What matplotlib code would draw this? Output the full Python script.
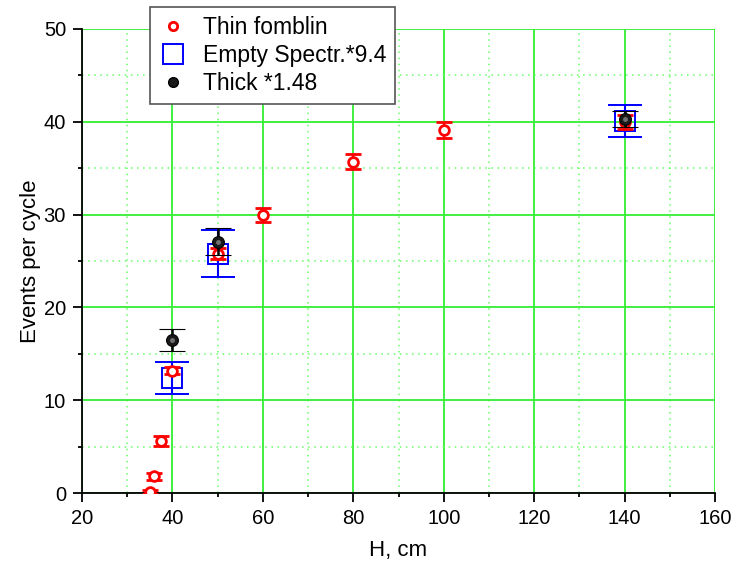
#!/usr/bin/env python3
"""Events per cycle vs height H."""

import matplotlib
matplotlib.use('Agg')
import matplotlib.pyplot as plt
from matplotlib.lines import Line2D
from matplotlib.ticker import MultipleLocator

plt.rcParams['font.family'] = ['Liberation Sans', 'DejaVu Sans']

# Thin fomblin
thin_h = [35, 36, 37.4, 40, 50, 60, 80, 100, 140]
thin_y = [0.1, 1.8, 5.6, 13.2, 25.8, 30.0, 35.7, 39.1, 40.0]
thin_err = [0.2, 0.4, 0.5, 0.35, 0.55, 0.75, 0.8, 0.85, 0.75]

# Empty spectrometer, scaled *9.4
empty_h = [40, 50, 140]
empty_y = [12.4, 25.8, 40.1]
empty_err = [1.7, 2.5, 1.7]

# Thick, scaled *1.48
thick_h = [40, 50, 140]
thick_y = [16.5, 27.1, 40.3]
thick_err = [1.15, 1.45, 0.85]

fig = plt.figure(figsize=(7.31, 5.67), dpi=100)
ax = fig.add_axes([0.1122, 0.1305, 0.866, 0.8184])

ax.grid(True, which='major', color='#33ee33', lw=1.3, ls='-', zorder=0)
ax.grid(True, which='minor', color='#66ff66', lw=1.1, ls=(0, (1, 3)), zorder=0)
ax.set_axisbelow(True)

ax.errorbar(empty_h, empty_y, yerr=empty_err, fmt='s', ms=14, mfc='none',
            mec='#0000ff', mew=1.4, ecolor='#0000ff', elinewidth=1.5,
            capsize=12, capthick=1.8, zorder=3)
ax.errorbar(thin_h, thin_y, yerr=thin_err, fmt='o', ms=7, mfc='white',
            mec='#ff0000', mew=2, ecolor='#ff0000', elinewidth=1.6,
            capsize=6, capthick=2, zorder=4)
ax.errorbar(thick_h, thick_y, yerr=thick_err, fmt='o', ms=8.5, mfc='#1a1a1a',
            mec='black', mew=0.8, ecolor='black', elinewidth=1.8,
            capsize=9.5, capthick=2.6, zorder=5)
# small highlight on the black balls
ax.plot(thick_h, thick_y, 'o', ms=3.5, color='#999999', alpha=0.7,
        markeredgewidth=0, zorder=6)

ax.set_xlim(20, 160)
ax.set_ylim(0, 50)
ax.xaxis.set_major_locator(MultipleLocator(20))
ax.xaxis.set_minor_locator(MultipleLocator(10))
ax.yaxis.set_major_locator(MultipleLocator(10))
ax.yaxis.set_minor_locator(MultipleLocator(5))

for side in ['top', 'right']:
    ax.spines[side].set_visible(False)
for side in ['left', 'bottom']:
    ax.spines[side].set_linewidth(1.3)
ax.tick_params(which='major', direction='out', length=6.5, width=1.3,
               labelsize=14.5, pad=5)
ax.tick_params(which='minor', direction='out', length=3.2, width=1.3)

ax.set_xlabel('H, cm', fontsize=16, labelpad=9)
ax.set_ylabel('Events per cycle', fontsize=16, labelpad=2)

handles = [
    Line2D([], [], ls='none', marker='o', ms=6, mfc='white', mec='#ff0000', mew=2),
    Line2D([], [], ls='none', marker='s', ms=15, mfc='none', mec='#0000ff', mew=1.4),
    Line2D([], [], ls='none', marker='o', ms=7, mfc='#1a1a1a', mec='black'),
]
labels = ['Thin fomblin', 'Empty Spectr.*9.4', 'Thick *1.48']
leg = fig.legend(handles, labels, loc='upper left', bbox_to_anchor=(0.205, 0.988),
                 fontsize=16.5, frameon=True, fancybox=False, edgecolor='#555555',
                 framealpha=1, handlelength=1.2, handletextpad=0.7,
                 labelspacing=0.22, borderpad=0.4, borderaxespad=0)
leg.get_frame().set_linewidth(1.2)

plt.savefig('out.png', dpi=100)
print("Saved: out.png")
